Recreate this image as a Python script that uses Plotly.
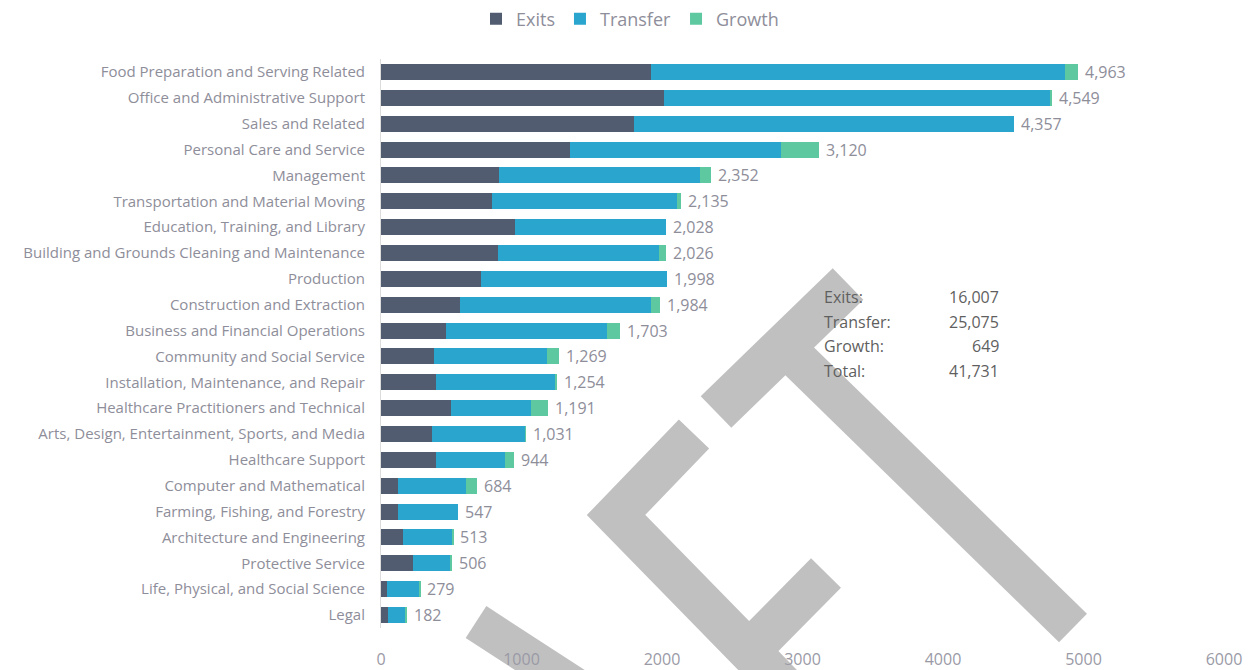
import plotly.graph_objects as go

categories = [
    "Food Preparation and Serving Related",
    "Office and Administrative Support",
    "Sales and Related",
    "Personal Care and Service",
    "Management",
    "Transportation and Material Moving",
    "Education, Training, and Library",
    "Building and Grounds Cleaning and Maintenance",
    "Production",
    "Construction and Extraction",
    "Business and Financial Operations",
    "Community and Social Service",
    "Installation, Maintenance, and Repair",
    "Healthcare Practitioners and Technical",
    "Arts, Design, Entertainment, Sports, and Media",
    "Healthcare Support",
    "Computer and Mathematical",
    "Farming, Fishing, and Forestry",
    "Architecture and Engineering",
    "Protective Service",
    "Life, Physical, and Social Science",
    "Legal",
]
exits = [1925, 2012, 1798, 1343, 838, 791, 957, 833, 714, 560, 464,
         379, 391, 498, 364, 391, 124, 124, 160, 231, 41, 52]
transfer = [2940, 2752, 2709, 1502, 1430, 1318, 1071, 1146, 1322, 1362, 1148,
            806, 845, 571, 664, 488, 482, 423, 350, 267, 230, 119]
growth = [98, 10, 0, 275, 84, 26, 0, 47, 0, 62, 91,
          84, 18, 122, 3, 65, 78, 0, 3, 8, 8, 11]
total_labels = [4963, 4549, 4357, 3120, 2352, 2135, 2028, 2026, 1998, 1984, 1703,
                1269, 1254, 1191, 1031, 944, 684, 547, 513, 506, 279, 182]

summary_names = ["Exits:", "Transfer:", "Growth:", "Total:"]
summary_values = [16007, 25075, 649, 41731]

FONT = "Open Sans"
GREY = "#8e8e9a"

# page body adds an 8px margin, so work in shifted pixels
OFF = 8
W, H = 1255 - OFF, 670 - OFF
L, R, T, B = 381 - OFF, 1224 - OFF, 59 - OFF, 628 - OFF


def px(x, y):
    """reference pixel position -> paper coords"""
    x, y = x - OFF, y - OFF
    return (x - L) / (R - L), (B - y) / (B - T)


fig = go.Figure()
for name, vals, col in [("Exits", exits, "#515c71"),
                        ("Transfer", transfer, "#2aa5cd"),
                        ("Growth", growth, "#5ec9a1")]:
    fig.add_trace(go.Bar(y=categories, x=vals, name=name, orientation="h",
                         marker=dict(color=col, line=dict(width=0)), width=0.62))

# bar end labels
for cat, e, t, g, lab in zip(categories, exits, transfer, growth, total_labels):
    fig.add_annotation(x=e + t + g, y=cat, text=f"{lab:,}", xanchor="left",
                       xshift=5, showarrow=False,
                       font=dict(family=FONT, size=16, color=GREY))

# summary box
rows_y = [297, 322, 346, 371]
for nm, v, yy in zip(summary_names, summary_values, rows_y):
    x0, y0 = px(822, yy)
    x1, _ = px(1001, yy)
    fig.add_annotation(x=x0, y=y0, xref="paper", yref="paper", text=nm,
                       xanchor="left", showarrow=False,
                       font=dict(family=FONT, size=16, color="#5f5f5f"))
    fig.add_annotation(x=x1, y=y0, xref="paper", yref="paper", text=f"{v:,}",
                       xanchor="right", showarrow=False,
                       font=dict(family=FONT, size=16, color="#5f5f5f"))

# grey watermark strokes lying over the picture (centre lines, stroke width)
strokes = [
    ([(476, 622), (610, 709)], 38),
    ([(694, 434), (616, 515), (790, 693)], 42),
    ([(826, 573), (750, 650)], 42),
    ([(848, 284), (716, 412)], 44),
    ([(785, 347), (1073, 628)], 40),
]
for pts, lw in strokes:
    path = ""
    for i, (xx, yy) in enumerate(pts):
        a, b = px(xx, yy)
        path += ("M" if i == 0 else "L") + f"{a:.4f},{b:.4f} "
    fig.add_shape(type="path", path=path, xref="paper", yref="paper",
                  line=dict(color="#c0c0c0", width=lw), layer="below")

fig.update_layout(
    barmode="stack",
    width=W, height=H,
    margin=dict(l=L, r=W - R, t=T, b=H - B, autoexpand=False),
    paper_bgcolor="white", plot_bgcolor="rgba(0,0,0,0)",
    font=dict(family=FONT, color=GREY),
    legend=dict(orientation="h", x=px(630, 0)[0], y=px(0, 19)[1],
                xanchor="center", yanchor="middle", itemwidth=30,
                font=dict(family=FONT, size=18, color=GREY),
                traceorder="normal"),
    showlegend=True,
)
fig.update_xaxes(range=[0, 6000], dtick=1000, showgrid=False, zeroline=False,
                 tickfont=dict(family=FONT, size=16, color="#9a9aa6"),
                 ticklabelstandoff=20)
fig.update_yaxes(autorange="reversed", showgrid=False, showline=True,
                 linecolor="#dcdcdc", linewidth=1,
                 tickfont=dict(family=FONT, size=15, color=GREY),
                 ticklabelstandoff=12)

fig.write_html("out.html")
